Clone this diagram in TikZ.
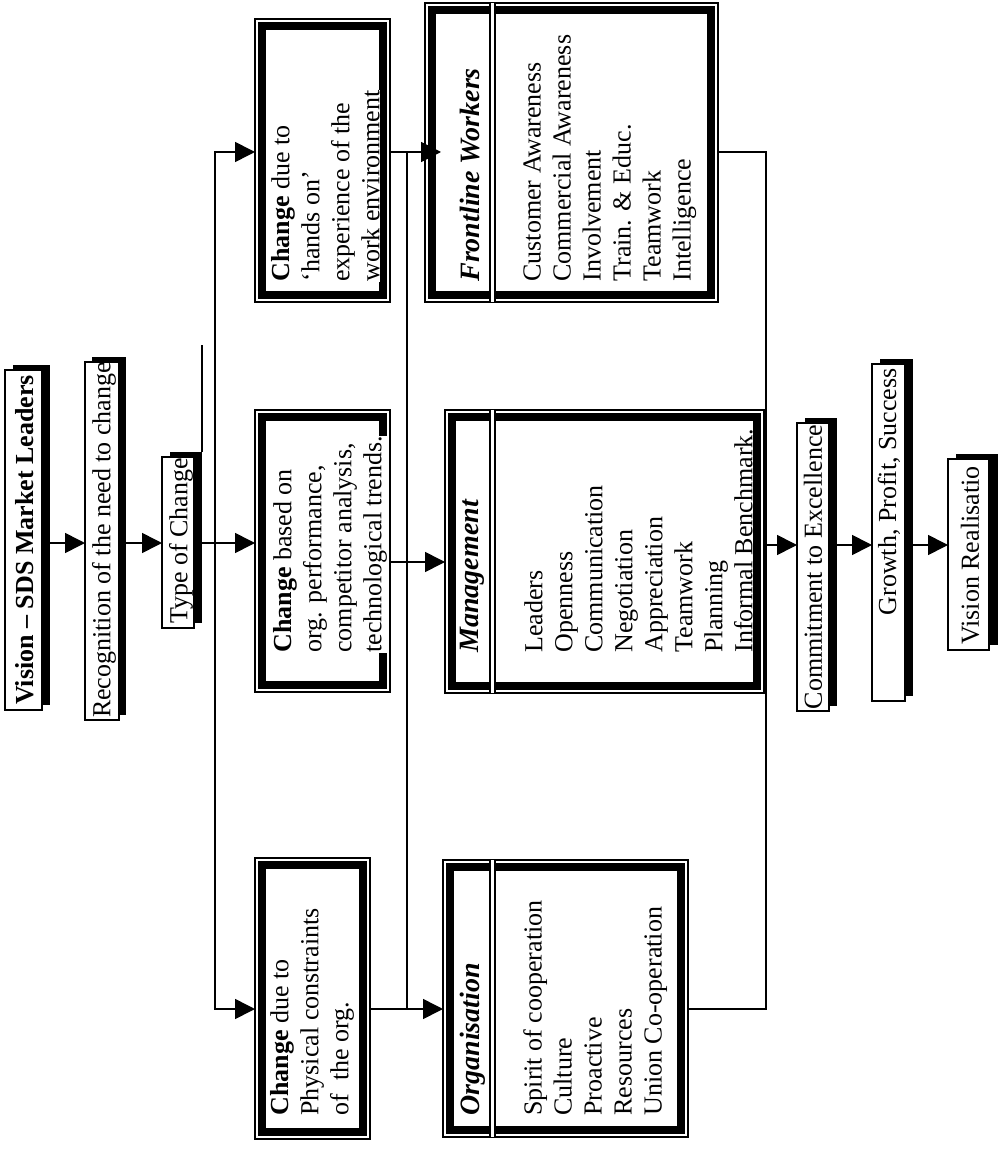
\documentclass[tikz,border=0pt]{standalone}
\usepackage{fontspec}
\setmainfont{Liberation Serif}
\usetikzlibrary{arrows.meta,fit}

% box with a solid drop shadow: name, box corners, shadow corners
\newcommand\shadowbox[5]{%
  \node[box,fit={#2 #3}] (#1) {};
  \node[box,fit={#4 #5}] (#1-sh) {};
  \fill (#1-sh.south west) rectangle (#1-sh.north east);
  \draw[line width=1pt,fill=white] (#1.south west) rectangle (#1.north east);}

% thin-thick double frame: name, corners
\newcommand\frameblock[3]{%
  \node[box,fit={#2 #3}] (#1) {};
  \draw[line width=0.65pt] (#1.south west) rectangle (#1.north east);
  \draw[line width=4pt] ([xshift=3.5pt,yshift=3.5pt]#1.south west)
    rectangle ([xshift=-3.5pt,yshift=-3.5pt]#1.north east);}

% double rule between heading and list
\newcommand\divider[1]{%
  \draw[line width=0.6pt,double,double distance=1.9pt]
    (#1.north west -| 492.5,0) -- (#1.south west -| 492.5,0);}

\begin{document}
\begin{tikzpicture}[x=0.5pt,y=-0.5pt,
  box/.style={inner sep=0pt,outer sep=0pt},
  txt/.style={rotate=90,inner sep=0pt,align=left,font=\fontsize{13pt}{15pt}\selectfont},
  ttl/.style={rotate=90,inner sep=0pt,font=\fontsize{14pt}{15pt}\selectfont\bfseries\itshape},
  conn/.style={line width=0.8pt},
  arr/.style={conn,-{Triangle[length=10pt,width=10pt]}},
]
\useasboundingbox (0,0) rectangle (997,1149);
\fill[white] (0,0) rectangle (997,1149);

% ---- vision, recognition, type of change
\shadowbox{vis}{(5,370)}{(42,710)}{(13,365)}{(50,705)}
\node[txt,font=\fontsize{13pt}{15pt}\selectfont\bfseries] (vis-t) at (25,540) {Vision – SDS Market Leaders};
\shadowbox{rec}{(85,362)}{(119,720)}{(92,357)}{(126,715)}
\node[txt] (rec-t) at (104,540) {Recognition of the need to change};
\shadowbox{typ}{(162,457)}{(194,628)}{(170,452)}{(202,623)}
\node[txt] (typ-t) at (181,541) {Type of Change};

% ---- kinds of change
\frameblock{ho}{(255,19)}{(390,302)}
\frameblock{cb}{(255,410)}{(390,692)}
\frameblock{ph}{(255,858)}{(370,1139)}
\node[txt,fill=white,anchor=north west] (ho-t) at (271,282)
  {\textbf{Change} due to\\‘hands on’\\experience of the\\work environment};
\node[txt,fill=white,anchor=north west] (cb-t) at (273,653)
  {\textbf{Change} based on\\org. performance,\\competitor analysis,\\technological trends.};
\node[txt,fill=white,anchor=north west] (ph-t) at (270,1116)
  {\textbf{Change} due to\\Physical constraints\\of\ \ the org.};

% ---- groups
\frameblock{fw}{(425,3)}{(718,302)}
\frameblock{mg}{(445,410)}{(764,693)}
\frameblock{og}{(443,860)}{(688,1137)}
\divider{fw}
\divider{mg}
\divider{og}
\node[ttl,anchor=north west] (fw-h) at (460,282) {Frontline Workers};
\node[txt,anchor=north west] (fw-l) at (523,282)
  {Customer Awareness\\Commercial Awareness\\Involvement\\Train. \& Educ.\\Teamwork\\Intelligence};
\node[ttl,anchor=north west] (mg-h) at (460,653) {Management};
\node[txt,anchor=north west] (mg-l) at (524,653)
  {Leaders\\Openness\\Communication\\Negotiation\\Appreciation\\Teamwork\\Planning\\Informal Benchmark.};
\node[ttl,anchor=north west] (og-h) at (460,1116) {Organisation};
\node[txt,anchor=north west] (og-l) at (523,1116)
  {Spirit of cooperation\\Culture\\Proactive\\Resources\\Union Co-operation};

% ---- outcomes
\shadowbox{com}{(797,423)}{(829,711)}{(805,418)}{(837,706)}
\node[txt] (com-t) at (813,567) {Commitment to Excellence};
\shadowbox{gro}{(872,364)}{(905,701)}{(880,359)}{(913,696)}
\node[txt,anchor=east] (gro-t) at (889,368) {Growth, Profit, Success};
\shadowbox{vr}{(948,459)}{(989,650)}{(956,454)}{(1002,645)}
\node[txt,anchor=west] (vr-t) at (970,645) {Vision Realisatio};

% ---- connectors
\coordinate (j1) at (215,543);
\coordinate (j2a) at (407,152);
\coordinate (j2b) at (407,1009);
\coordinate (j3) at (766,545);
\coordinate (stub) at (202,345);

\draw[arr] (vis-sh.east |- 0,543) -- (rec.west |- 0,543);
\draw[arr] (rec-sh.east |- 0,543) -- (typ.west |- 0,543);
\draw[conn] (typ-sh.north east) -- (stub);
\draw[arr] (typ-sh.east |- 0,543) -- (cb.west |- 0,543);
\draw[arr] (j1) |- (ho.west |- 0,152);
\draw[arr] (j1) |- (ph.west |- 0,1009);

\draw[arr,shorten >=-8pt] (ho.east |- 0,152) -- (fw.west |- 0,152);
\draw[conn] (j2a) -- (j2b);
\draw[arr] (cb.east |- 0,562) -- (mg.west |- 0,562);
\draw[arr] (ph.east |- 0,1009) -- (og.west |- 0,1009);

\draw[conn] (fw.east |- 0,152) -| (j3) |- (og.east |- 0,1009);
\draw[arr] (j3) -- (com.west |- 0,545);
\draw[arr] (com-sh.east |- 0,545) -- (gro.west |- 0,545);
\draw[arr] (gro-sh.east |- 0,545) -- (vr.west |- 0,545);
\end{tikzpicture}
\end{document}
